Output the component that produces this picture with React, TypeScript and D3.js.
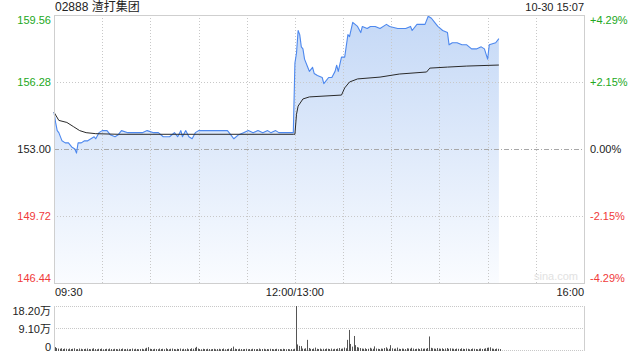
import React from "react";
import * as d3 from "d3";

const title = "02888 渣打集团";
const stamp = "10-30 15:07";
const priceTicks = [159.56, 156.28, 153.0, 149.72, 146.44];
const priceTickLabels = ["159.56", "156.28", "153.00", "149.72", "146.44"];
const pctLabels = ["+4.29%", "+2.15%", "0.00%", "-2.15%", "-4.29%"];
const timeLabels = ["09:30", "12:00/13:00", "16:00"];
const timeLabelMinutes = [0, 150, 330];
const gridMinutes = [30, 60, 90, 120, 150, 180, 210, 240, 270, 300];
const volTicks = [18.2, 9.1, 0];
const volTickLabels = ["18.20万", "9.10万", "0"];
const prevClose = 153.0;

// minutes since 09:30 (trading minutes, lunch removed)
const priceMinutes = [
  0, 1, 2, 3, 5, 7, 9, 11, 13, 14, 15, 17, 19, 21, 23, 25, 26, 28, 30, 33, 35, 38, 40, 42, 46, 55, 58, 62, 65, 68,
  72, 75, 77, 79, 80, 82, 84, 86, 88, 90, 98, 103, 108, 110, 112, 115, 118, 121, 124, 127, 130, 133, 135, 138, 140,
  145, 149, 150, 151, 152, 153, 154, 155, 156, 158, 159, 161, 162, 164, 167, 168, 171, 173, 175, 176, 177, 179, 181,
  183, 184, 186, 189, 191, 192, 195, 197, 200, 203, 207, 209, 214, 219, 222, 223, 226, 228, 231, 233, 235, 237, 239,
  242, 245, 246, 248, 251, 254, 257, 260, 263, 266, 268, 270, 271, 275, 277,
];
const prices = [
  154.8, 154.3, 153.9, 153.8, 153.4, 153.3, 153.3, 153.1, 153.0, 152.8, 153.3, 153.3, 153.4, 153.4, 153.5, 153.6,
  153.5, 153.8, 153.9, 153.9, 153.7, 153.6, 153.7, 153.9, 153.8, 153.8, 153.9, 153.8, 153.8, 153.6, 153.6, 153.8,
  153.6, 153.9, 153.6, 153.9, 153.6, 153.5, 153.8, 153.9, 153.9, 153.9, 153.9, 153.7, 153.5, 153.7, 153.8, 153.9,
  153.8, 153.9, 153.8, 153.9, 153.8, 153.9, 153.8, 153.8, 153.8, 157.2, 157.7, 158.8, 158.6, 158.0, 157.9, 157.4,
  157.0, 156.8, 157.0, 156.7, 156.6, 156.5, 156.2, 156.5, 156.5, 156.8, 157.1, 156.8, 157.5, 157.5, 158.6, 158.5,
  159.2, 159.0, 158.7, 159.0, 158.9, 159.0, 159.0, 158.9, 159.1, 159.0, 158.9, 158.9, 159.0, 158.8, 159.1, 159.1,
  159.1, 159.5, 159.4, 159.2, 159.0, 158.8, 158.7, 158.1, 158.2, 158.2, 158.1, 158.1, 157.9, 157.9, 158.0, 157.9,
  157.4, 158.1, 158.2, 158.4,
];
const avgMinutes = [0, 3, 8, 12, 16, 20, 26, 40, 149, 150, 151, 152, 155, 159, 179, 181, 184, 189, 203, 215, 232, 234, 245, 257, 277];
const avgPrices = [
  154.8, 154.4, 154.3, 154.1, 153.9, 153.8, 153.75, 153.72, 153.72, 153.72, 154.7, 155.1, 155.45, 155.55, 155.64,
  155.99, 156.28, 156.43, 156.52, 156.67, 156.77, 156.96, 157.01, 157.06, 157.11,
];
// volume per minute, in 万 shares
const volumes = [
  1.2, 0.8, 0.6, 0.5, 0.7, 0.4, 0.6, 0.5, 0.3, 0.6, 0.4, 0.5, 0.7, 0.3, 0.4, 0.6, 0.5, 0.3, 0.4, 0.5,
  0.6, 0.4, 0.3, 0.5, 0.7, 0.4, 0.3, 0.5, 0.4, 0.6, 0.3, 0.4, 0.5, 0.3, 0.6, 0.4, 0.3, 0.5, 0.4, 0.3,
  0.5, 0.4, 0.6, 0.3, 0.4, 0.5, 0.3, 0.4, 0.6, 0.3, 0.5, 0.4, 0.3, 0.4, 0.5, 0.3, 0.6, 0.9, 1.2, 0.5,
  0.4, 0.3, 0.5, 0.4, 0.3, 0.6, 0.4, 0.5, 0.3, 0.7, 0.4, 0.3, 0.5, 0.6, 0.4, 0.3, 0.5, 0.4, 0.6, 0.3,
  0.5, 0.4, 0.6, 0.3, 0.4, 0.7, 0.5, 0.9, 1.3, 0.6, 0.4, 0.3, 0.5, 0.4, 0.3, 0.5, 0.4, 0.3, 0.4, 0.5,
  0.3, 0.4, 0.5, 0.3, 0.4, 0.6, 0.3, 0.4, 0.5, 0.3, 0.8, 1.4, 0.5, 0.4, 0.3, 0.5, 0.4, 0.3, 0.4, 0.5,
  0.3, 0.4, 0.3, 0.5, 0.4, 0.3, 0.4, 0.6, 0.3, 0.4, 0.5, 0.3, 0.4, 0.3, 0.5, 0.4, 0.3, 0.4, 0.5, 0.3,
  0.4, 0.3, 0.5, 0.4, 0.3, 0.4, 0.3, 0.4, 0.3, 0.5,
  18.2, 2.3, 1.7, 1.6, 0.6, 0.5, 0.7, 4.2, 0.8, 0.5, 0.4, 0.6, 1.0, 0.5, 0.4, 0.6, 0.3, 0.5, 0.4, 0.6,
  0.5, 0.4, 0.6, 0.3, 0.5, 0.4, 0.6, 0.8, 0.5, 0.6, 1.0, 0.7, 4.2, 8.3, 2.5, 1.4, 5.8, 2.0, 1.2, 1.0,
  0.8, 0.6, 0.5, 0.7, 0.4, 0.5, 0.9, 0.6, 0.5, 1.5, 0.6, 0.5, 0.4, 0.6, 0.5, 0.8, 1.1, 0.6, 0.5, 2.0,
  0.7, 0.5, 0.6, 1.0, 0.5, 0.4, 0.6, 0.5, 0.4, 0.7, 0.6, 0.5, 0.9, 0.6, 0.4, 0.5, 0.6, 0.4, 0.7, 0.5,
  0.6, 0.5, 0.8, 5.6, 0.9, 0.7, 0.6, 0.5, 0.8, 0.6, 0.5, 0.7, 0.4, 0.6, 0.8, 0.5, 0.7, 0.6, 0.5, 0.4,
  0.6, 0.5, 0.4, 0.7, 0.5, 0.4, 0.6, 0.5, 0.3, 0.4, 0.6, 0.5, 0.4, 0.3, 0.5, 0.6, 0.4, 0.5, 0.7, 0.9,
  1.0, 1.1, 0.6, 0.5, 0.4, 0.6, 0.5, 0.4,
];

const W = 640;
const H = 360;
const L = 54;
const R = 584;
const T = 15;
const B = 283;
const VT = 306;
const VB = 350;
const FONT = "'Liberation Sans', Arial, 'Noto Sans CJK SC', sans-serif";
const GREEN = "#22a822";
const RED = "#f03a3a";
const GRID = "#c8c8c8";
const BORDER = "#cfcfcf";

function tickColor(i: number) {
  if (i < 2) return GREEN;
  if (i === 2) return "#222";
  return RED;
}

export default function App() {
  const x = d3.scaleLinear().domain([0, 330]).range([L, R]);
  const y = d3.scaleLinear().domain([146.44, 159.56]).range([B, T]);
  const yv = d3.scaleLinear().domain([0, 18.2]).range([VB, VT]);

  const pts = priceMinutes.map((m, i) => [m, prices[i]] as [number, number]);
  const avgPts = avgMinutes.map((m, i) => [m, avgPrices[i]] as [number, number]);

  const line = d3
    .line<[number, number]>()
    .x((d) => x(d[0]))
    .y((d) => y(d[1]));
  const area = d3
    .area<[number, number]>()
    .x((d) => x(d[0]))
    .y0(B)
    .y1((d) => y(d[1]));

  const labelY = (i: number, v: number) => {
    if (i === 0) return y(v) + 9;
    if (i === priceTicks.length - 1) return y(v) - 1;
    return y(v) + 4;
  };

  return (
    <svg
      width={W}
      height={H}
      style={{ position: "absolute", left: 0, top: 0, background: "#fff" }}
      fontFamily={FONT}
    >
      <defs>
        <linearGradient id="fillGrad" gradientUnits="userSpaceOnUse" x1="0" y1={T} x2="0" y2={B}>
          <stop offset="0%" stopColor="#c4d8f6" />
          <stop offset="100%" stopColor="#fafcff" />
        </linearGradient>
      </defs>

      {/* title */}
      <text x={L + 1} y={11} fontSize={12} fill="#222">
        {title}
      </text>
      <text x={R} y={11} fontSize={11} fill="#222" textAnchor="end">
        {stamp}
      </text>

      {/* area + lines */}
      <path d={area(pts) || ""} fill="url(#fillGrad)" />

      {/* grid */}
      {gridMinutes.map((m) => (
        <line
          key={"vg" + m}
          x1={Math.round(x(m)) + 0.5}
          x2={Math.round(x(m)) + 0.5}
          y1={T}
          y2={B}
          stroke={GRID}
          strokeDasharray="1,2"
        />
      ))}
      {priceTicks.map((v, i) =>
        i === 0 || i === priceTicks.length - 1 ? null : (
          <line
            key={"hg" + i}
            x1={L}
            x2={R}
            y1={Math.round(y(v)) + 0.5}
            y2={Math.round(y(v)) + 0.5}
            stroke={v === prevClose ? "#a8a8a8" : GRID}
            strokeDasharray={v === prevClose ? "5,2,1,2" : "1,2"}
          />
        )
      )}

      <path d={line(pts) || ""} fill="none" stroke="#4d88ee" strokeWidth={1.1} strokeLinejoin="round" />
      <path d={line(avgPts) || ""} fill="none" stroke="#2a2a2a" strokeWidth={1} strokeLinejoin="round" />

      {/* border */}
      <rect x={L + 0.5} y={T + 0.5} width={R - L} height={B - T} fill="none" stroke={BORDER} />

      <text x={R - 6} y={B - 3} fontSize={11} fill="#e2e2e2" textAnchor="end">
        sina.com
      </text>

      {/* y labels */}
      {priceTicks.map((v, i) => (
        <text key={"pl" + i} x={L - 3} y={labelY(i, v)} fontSize={11} fill={tickColor(i)} textAnchor="end">
          {priceTickLabels[i]}
        </text>
      ))}
      {priceTicks.map((v, i) => (
        <text key={"pr" + i} x={R + 6} y={labelY(i, v)} fontSize={11} fill={tickColor(i)}>
          {pctLabels[i]}
        </text>
      ))}

      {/* time labels */}
      {timeLabels.map((t, i) => (
        <text
          key={"t" + i}
          x={x(timeLabelMinutes[i]) + (i === 0 ? 1 : 0)}
          y={296}
          fontSize={11}
          fill="#222"
          textAnchor={i === 0 ? "start" : i === 1 ? "middle" : "end"}
        >
          {t}
        </text>
      ))}

      {/* volume panel */}
      {volTicks.map((v, i) => (
        <line
          key={"vl" + i}
          x1={L}
          x2={R}
          y1={Math.round(yv(v)) + 0.5}
          y2={Math.round(yv(v)) + 0.5}
          stroke={GRID}
          strokeDasharray="1,1"
        />
      ))}
      <line x1={L + 0.5} x2={L + 0.5} y1={VT} y2={VB + 1} stroke={BORDER} />
      <line x1={R + 0.5} x2={R + 0.5} y1={VT} y2={VB + 1} stroke={BORDER} />
      {volumes.map((v, i) => (
        <line
          key={"vb" + i}
          x1={Math.round(x(i + 0.5)) + 0.5}
          x2={Math.round(x(i + 0.5)) + 0.5}
          y1={VB + 1}
          y2={yv(v)}
          stroke="#555"
          strokeWidth={1}
        />
      ))}
      {volTicks.map((v, i) => (
        <text
          key={"vt" + i}
          x={L - 3}
          y={i === 0 ? yv(v) + 9 : i === 1 ? yv(v) + 5 : yv(v) + 1}
          fontSize={11}
          fill="#222"
          textAnchor="end"
        >
          {volTickLabels[i]}
        </text>
      ))}
    </svg>
  );
}
